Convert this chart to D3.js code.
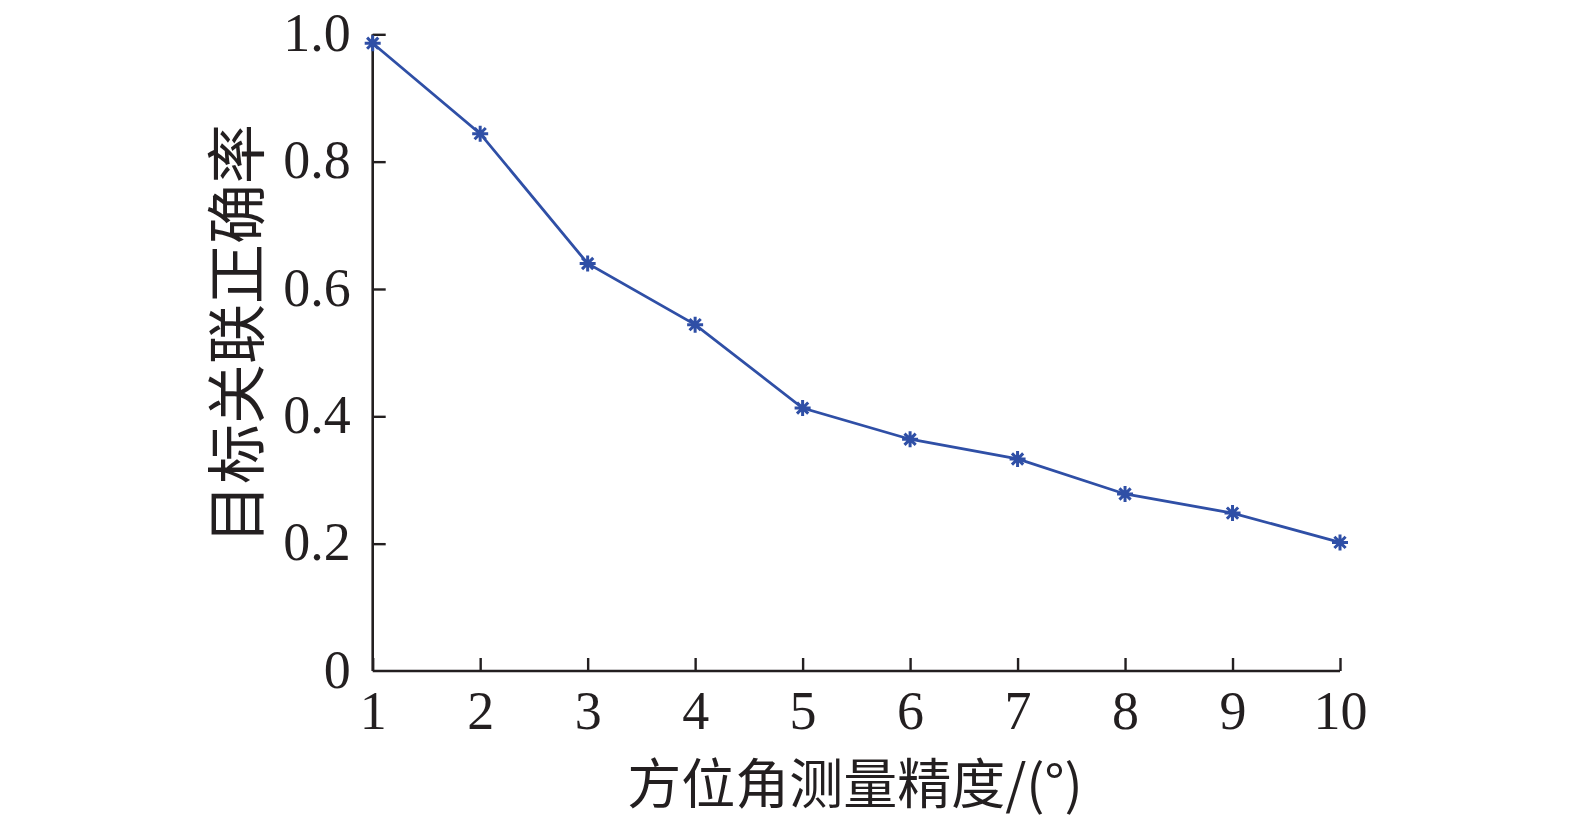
<!DOCTYPE html>
<html><head><meta charset="utf-8">
<script src="https://cdn.jsdelivr.net/npm/d3@7"></script>
<style>html,body{margin:0;padding:0;background:#fff;}</style>
</head><body>
<svg id="chart" width="1575" height="821"></svg>
<script>
const xValues = [1, 2, 3, 4, 5, 6, 7, 8, 9, 10];
const accuracy = [0.986, 0.844, 0.640, 0.544, 0.413, 0.364, 0.333, 0.278, 0.248, 0.202];
const yTicks = [0, 0.2, 0.4, 0.6, 0.8, 1.0];
const yTickLabels = ["0", "0.2", "0.4", "0.6", "0.8", "1.0"];
const xTickLabels = ["1","2","3","4","5","6","7","8","9","10"];
const xTitle = "方位角测量精度/(°)";
const yTitle = "目标关联正确率";

(function(){
const svg = d3.select("#chart");
const mLeft = 372.7, mRight = 1340, mTop = 34.3, mBottom = 671;
const x = d3.scaleLinear().domain([1, 10]).range([mLeft, mRight]);
const y = d3.scaleLinear().domain([0, 1]).range([mBottom, mTop]);
const serif = "'Liberation Serif','Times New Roman',serif";
const color = "#2f4fa6";

// x axis
const xAxis = d3.axisBottom(x).tickValues(xValues).tickSize(-13).tickPadding(20)
  .tickFormat((d,i) => xTickLabels[i]);
const gx = svg.append("g").attr("transform", `translate(0,${mBottom})`).call(xAxis);
gx.select(".domain").attr("stroke", "#231f20").attr("stroke-width", 2.6).attr("d", `M${mLeft},0H${mRight}`);
gx.selectAll(".tick line").attr("stroke", "#231f20").attr("stroke-width", 2.4);
gx.selectAll(".tick text").attr("font-family", serif).attr("font-size", 54).attr("fill", "#231f20")
  .attr("dy", "0.71em");

// y axis
const yAxis = d3.axisLeft(y).tickValues(yTicks).tickSize(-13).tickPadding(22)
  .tickFormat((d,i) => yTickLabels[i]);
const gy = svg.append("g").attr("transform", `translate(${mLeft},0)`).call(yAxis);
gy.select(".domain").attr("stroke", "#231f20").attr("stroke-width", 2.6).attr("d", `M0,${mTop}V${mBottom}`);
gy.selectAll(".tick line").attr("stroke", "#231f20").attr("stroke-width", 2.4);
gy.selectAll(".tick text").attr("font-family", serif).attr("font-size", 54).attr("fill", "#231f20")
  .attr("dy", "0.3em");
gy.selectAll(".tick").filter(d => d === 0).select("line").remove();

// line
const data = xValues.map((v, i) => ({x: v, y: accuracy[i]}));
svg.append("path").datum(data)
  .attr("fill", "none").attr("stroke", color).attr("stroke-width", 2.8)
  .attr("d", d3.line().x(d => x(d.x)).y(d => y(d.y)));

// asterisk markers
const r = 8;
const markers = svg.append("g").selectAll("g").data(data).join("g")
  .attr("transform", d => `translate(${x(d.x)},${y(d.y)})`);
markers.append("path")
  .attr("d", `M${-r},0H${r}M0,${-r}V${r}M${-r*0.7},${-r*0.7}L${r*0.7},${r*0.7}M${-r*0.7},${r*0.7}L${r*0.7},${-r*0.7}`)
  .attr("stroke", color).attr("stroke-width", 3).attr("fill", "none");

// titles
svg.append("text").attr("x", 855).attr("y", 804).attr("text-anchor", "middle")
  .attr("font-family", "'Noto Sans CJK SC'," + serif).attr("font-size", 54).attr("fill", "#231f20")
  .text(xTitle);
svg.append("text").attr("transform", "translate(259,334) rotate(-90)").attr("text-anchor", "middle")
  .attr("font-family", "'Noto Sans CJK SC'," + serif).attr("font-size", 60).attr("fill", "#231f20")
  .text(yTitle);
})();
</script>
</body></html>
